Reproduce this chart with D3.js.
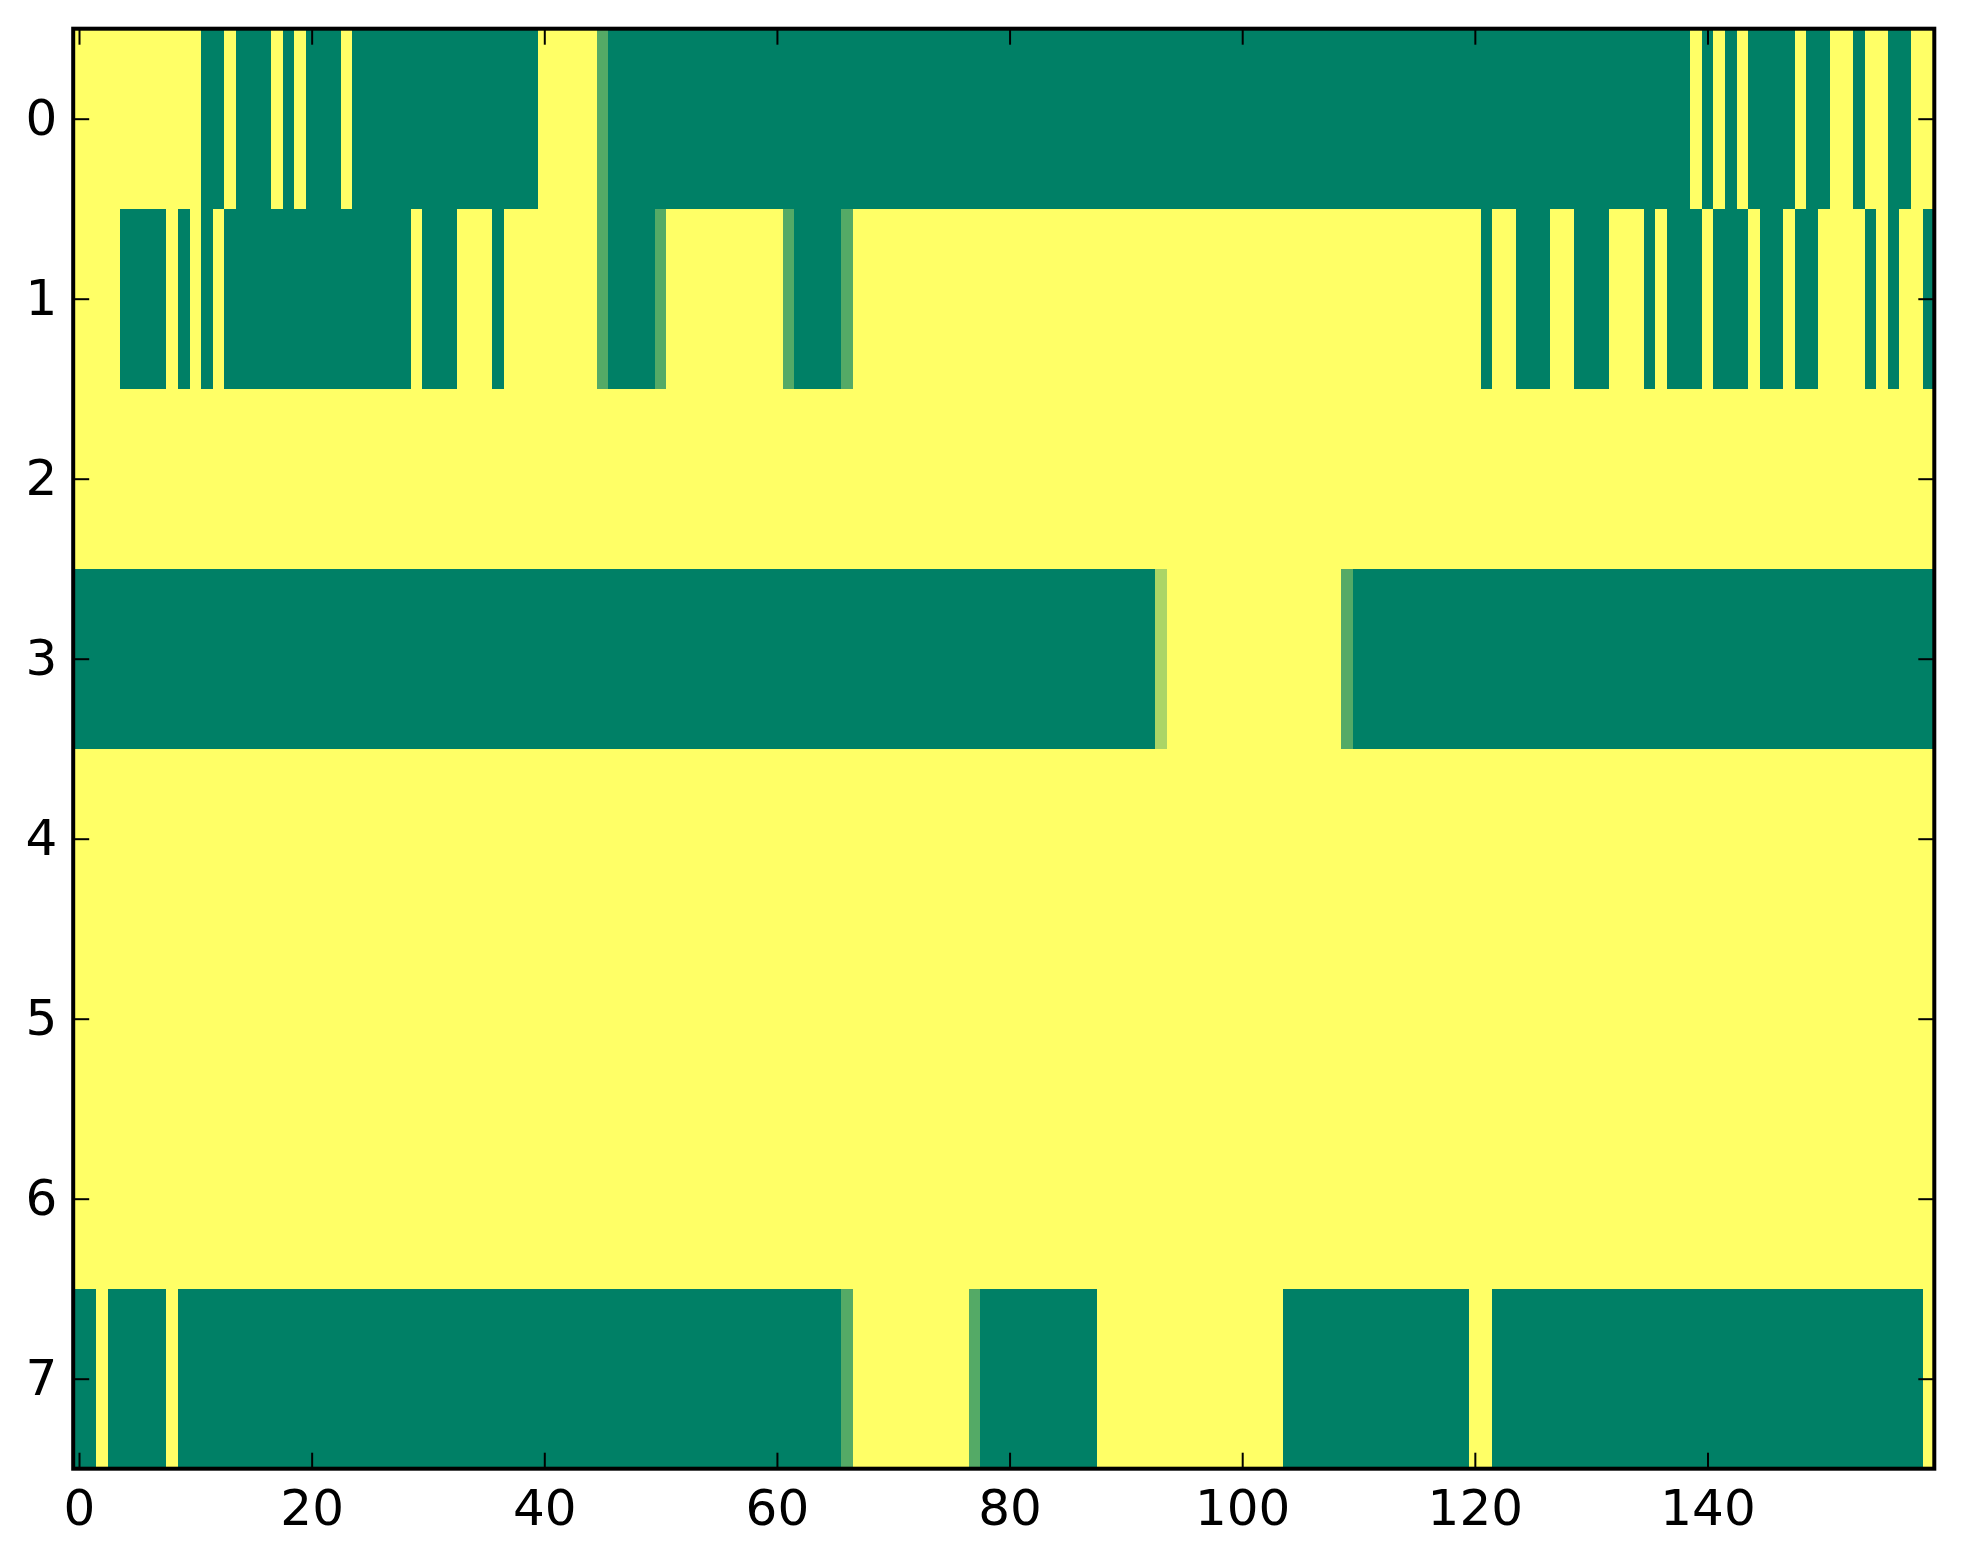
<!DOCTYPE html>
<html lang="en">
<head>
<meta charset="utf-8">
<style>
  body { margin: 0; background: white; }
  svg { background: white; }
  .tick text { font-family: 'DejaVu Sans'; font-size: 50px; fill: black; }
  .tick line { stroke: black; stroke-width: 2px; }
  .cell { shape-rendering: crispEdges; }
</style>
</head>
<body>
<svg width="1963" height="1564"></svg>
<script src="https://d3js.org/d3.v7.min.js"></script>
<script>
// each row as runs of [value, count], 160 columns per row
var row0 = [[1,11],[0,2],[1,1],[0,3],[1,1],[0,1],[1,1],[0,3],[1,1],[0,16],[1,5],[0.33,1],
            [0,93],[1,1],[0,1],[1,1],[0,1],[1,1],[0,4],[1,1],[0,2],[1,2],[0,1],[1,2],[0,2],[1,2]];
var row1 = [[1,4],[0,4],[1,1],[0,1],[1,1],[0,1],[1,1],[0,16],[1,1],[0,3],[1,3],[0,1],[1,8],
            [0.33,1],[0,4],[0.33,1],[1,10],[0.33,1],[0,4],[0.33,1],[1,54],[0,1],[1,2],[0,3],
            [1,2],[0,3],[1,3],[0,1],[1,1],[0,3],[1,1],[0,3],[1,1],[0,2],[1,1],[0,2],[1,4],
            [0,1],[1,1],[0,1],[1,2],[0,1]];
var row2 = [[1,160]];
var row3 = [[0,93],[0.67,1],[1,15],[0.33,1],[0,50]];
var row4 = [[1,160]];
var row5 = [[1,160]];
var row6 = [[1,160]];
var row7 = [[0,2],[1,1],[0,5],[1,1],[0,57],[0.33,1],[1,10],[0.33,1],[0,10],[1,16],[0,16],
            [1,2],[0,37],[1,1]];

var rows = [row0, row1, row2, row3, row4, row5, row6, row7];
var nCols = 160;
var xTicks = [0, 20, 40, 60, 80, 100, 120, 140];
var yTicks = [0, 1, 2, 3, 4, 5, 6, 7];

var svg = d3.select("svg");
var plotLeft = 73.2, plotRight = 1934.3, plotTop = 28.7, plotBottom = 1468.7;

var x = d3.scaleLinear().domain([-0.5, nCols - 0.5]).range([plotLeft, plotRight]);
var y = d3.scaleLinear().domain([-0.5, rows.length - 0.5]).range([plotTop, plotBottom]);

// matplotlib "summer" colormap
var color = d3.scaleLinear().domain([0, 1]).range(["#008066", "#ffff66"]);

var cells = [];
rows.forEach(function(runs, r) {
  var c = 0;
  runs.forEach(function(run) {
    for (var k = 0; k < run[1]; k++) {
      cells.push({ row: r, col: c, v: run[0] });
      c++;
    }
  });
});

svg.append("g")
  .selectAll("rect")
  .data(cells)
  .enter().append("rect")
    .attr("class", "cell")
    .attr("x", d => x(d.col - 0.5))
    .attr("y", d => y(d.row - 0.5))
    .attr("width", d => x(d.col + 0.5) - x(d.col - 0.5) + 0.5)
    .attr("height", d => y(d.row + 0.5) - y(d.row - 0.5) + 0.5)
    .attr("fill", d => color(d.v));

var tick = 16;

svg.append("g")
  .attr("transform", "translate(0," + plotBottom + ")")
  .call(d3.axisBottom(x).tickValues(xTicks).tickSizeInner(-tick).tickSizeOuter(0).tickPadding(21))
  .call(g => g.select(".domain").remove());

svg.append("g")
  .attr("transform", "translate(0," + plotTop + ")")
  .call(d3.axisTop(x).tickValues(xTicks).tickSizeInner(-tick).tickSizeOuter(0).tickFormat(""))
  .call(g => g.select(".domain").remove());

svg.append("g")
  .attr("transform", "translate(" + plotLeft + ",0)")
  .call(d3.axisLeft(y).tickValues(yTicks).tickSizeInner(-tick).tickSizeOuter(0).tickPadding(16))
  .call(g => g.select(".domain").remove());

svg.append("g")
  .attr("transform", "translate(" + plotRight + ",0)")
  .call(d3.axisRight(y).tickValues(yTicks).tickSizeInner(-tick).tickSizeOuter(0).tickFormat(""))
  .call(g => g.select(".domain").remove());

svg.append("rect")
  .attr("x", plotLeft)
  .attr("y", plotTop)
  .attr("width", plotRight - plotLeft)
  .attr("height", plotBottom - plotTop)
  .attr("fill", "none")
  .attr("stroke", "black")
  .attr("stroke-width", 4);
</script>
</body>
</html>
